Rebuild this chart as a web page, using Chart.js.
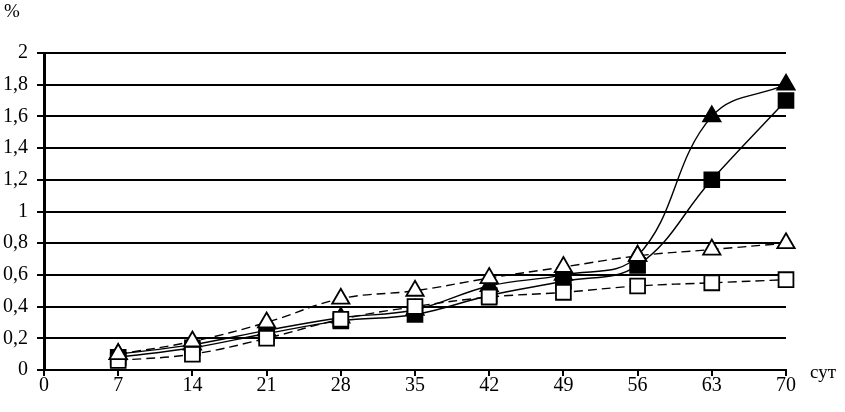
<!DOCTYPE html>
<html>
<head>
<meta charset="utf-8">
<script src="https://cdn.jsdelivr.net/npm/chart.js@4/dist/chart.umd.min.js"></script>
<style>
    html, body { margin: 0; padding: 0; background: #fff; }
    #wrap { position: relative; width: 845px; height: 412px; }
</style>
</head>
<body>
<div id="wrap"><canvas id="chart" width="845" height="412"></canvas></div>
<script>
// сутки
const days = [7, 14, 21, 28, 35, 42, 49, 56, 63, 70];

// серии, %
const openTriangle = [0.1, 0.18, 0.3, 0.45, 0.5, 0.58, 0.65, 0.72, 0.76, 0.8];
const openSquare = [0.06, 0.1, 0.2, 0.32, 0.4, 0.46, 0.49, 0.53, 0.55, 0.57];
const filledTriangle = [0.1, 0.16, 0.25, 0.33, 0.38, 0.53, 0.6, 0.72, 1.6, 1.8];
const filledSquare = [0.08, 0.14, 0.23, 0.31, 0.35, 0.47, 0.56, 0.66, 1.2, 1.7];

const yUnit = '%';
const xUnit = 'сут';

const FONT = '"Liberation Serif", "Times New Roman", serif';

function toPoints(values) {
    return days.map((d, i) => ({ x: d, y: values[i] }));
}

function series(values, style, filled, dashed) {
    return {
        data: toPoints(values),
        borderColor: '#000',
        borderWidth: 1.4,
        borderDash: dashed ? [9, 5] : [],
        tension: 0.4,
        clip: false,
        pointStyle: style,
        pointRadius: style === 'rect' ? 10.5 : 10,
        pointBorderWidth: 1.8,
        pointBorderColor: '#000',
        pointBackgroundColor: filled ? '#000' : '#fff',
        fill: false
    };
}

// подписи единиц
const unitLabels = {
    id: 'unitLabels',
    afterDraw(chart) {
        const ctx = chart.ctx;
        ctx.save();
        ctx.fillStyle = '#000';
        ctx.font = '19px ' + FONT;
        ctx.textBaseline = 'middle';
        ctx.textAlign = 'left';
        ctx.fillText(yUnit, 4, 12);
        ctx.fillText(xUnit, 810, 373);
        ctx.restore();
    }
};

new Chart(document.getElementById('chart'), {
    type: 'line',
    data: {
        datasets: [
            series(openTriangle, 'triangle', false, true),
            series(openSquare, 'rect', false, true),
            series(filledTriangle, 'triangle', true, false),
            series(filledSquare, 'rect', true, false)
        ]
    },
    options: {
        responsive: false,
        animation: false,
        layout: { padding: { top: 53, right: 59, left: 0, bottom: 0 } },
        plugins: {
            legend: { display: false },
            tooltip: { enabled: false }
        },
        scales: {
            x: {
                type: 'linear',
                min: 0,
                max: 70,
                afterFit: scale => { scale.height = 42; },
                afterBuildTicks: scale => {
                    scale.ticks = [0, 7, 14, 21, 28, 35, 42, 49, 56, 63, 70].map(v => ({ value: v }));
                },
                border: { color: '#000', width: 2 },
                grid: {
                    drawOnChartArea: false,
                    drawTicks: true,
                    tickLength: 6,
                    color: '#000',
                    lineWidth: 2
                },
                ticks: {
                    color: '#000',
                    font: { family: FONT, size: 20 },
                    padding: -2,
                    maxRotation: 0,
                    autoSkip: false
                }
            },
            y: {
                min: 0,
                max: 2,
                afterFit: scale => { scale.width = 44; },
                border: { color: '#000', width: 3 },
                grid: {
                    color: '#000',
                    lineWidth: 2,
                    drawTicks: true,
                    tickLength: 7
                },
                ticks: {
                    stepSize: 0.2,
                    color: '#000',
                    font: { family: FONT, size: 20 },
                    padding: 9,
                    callback: v => String(Math.round(v * 10) / 10).replace('.', ',')
                }
            }
        }
    },
    plugins: [unitLabels]
});
</script>
</body>
</html>
